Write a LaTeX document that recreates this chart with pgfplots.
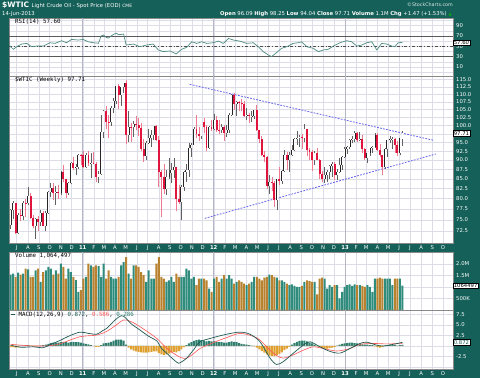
\documentclass[border=0pt]{standalone}
\usepackage{pgfplots}
\pgfplotsset{compat=1.18}
\usepackage{pgfplotstable}
\usepackage{fontspec}
\setmainfont{DejaVu Sans}
\newfontfamily\monof{DejaVu Sans Mono}
\definecolor{bg}{HTML}{16605A}
\definecolor{gridc}{HTML}{DCDDE6}
\definecolor{yearc}{HTML}{B4B6C6}
\definecolor{candred}{HTML}{E0143C}
\definecolor{wickred}{HTML}{F07890}
\definecolor{wickblk}{HTML}{606060}
\definecolor{volteal}{HTML}{2F8C7C}
\definecolor{volbrown}{HTML}{B8822F}
\definecolor{rsic}{HTML}{4E8C84}
\definecolor{macdc}{HTML}{1E5A52}
\definecolor{sigc}{HTML}{FF5555}
\definecolor{histpos}{HTML}{2F7F70}
\definecolor{histneg}{HTML}{E0A030}
\definecolor{trend}{HTML}{6464F0}
\definecolor{sep}{HTML}{8A8A8A}
\newcommand\lab{\fontsize{5.3}{6}\selectfont}
\newcommand\mlab{\fontsize{5.8}{6}\selectfont\monof}

\pgfplotstableread{
k o h l c v
1 73.8 77.6 73.0 77.2 1.54
2 77.2 79.4 75.2 78.9 1.58
3 78.9 79.0 71.8 72.1 1.44
4 72.1 76.6 71.9 76.1 1.62
5 76.1 77.6 74.7 76.0 1.54
6 76.0 79.4 75.0 79.0 1.58
7 79.0 80.0 75.6 78.9 1.80
8 78.9 83.0 78.5 80.7 1.77
9 80.7 81.3 75.3 75.4 1.44
10 75.4 76.2 73.1 73.5 1.44
11 73.5 75.4 70.8 75.2 1.72
12 75.2 76.0 72.6 74.6 1.80
13 74.6 77.3 73.5 76.5 1.22
14 76.5 77.0 73.6 73.7 1.65
15 73.7 77.0 72.6 76.5 1.72
16 76.5 82.0 76.3 81.6 1.87
17 81.6 84.0 80.3 82.7 1.80
18 82.7 83.8 79.8 81.3 1.54
19 81.3 83.2 78.5 81.7 1.72
20 81.7 83.5 80.0 81.4 1.58
21 81.4 87.0 80.9 86.9 2.01
22 86.9 88.6 84.1 84.9 1.87
23 84.9 85.0 80.1 81.5 1.36
24 81.5 84.2 80.9 83.8 1.80
25 83.8 89.5 83.6 89.2 1.65
26 89.2 90.8 87.2 87.8 1.44
27 87.8 88.9 86.1 88.0 1.30
28 88.0 91.6 87.7 91.5 0.79
29 91.5 91.8 88.7 91.4 0.86
30 91.4 92.6 87.8 88.0 1.36
31 88.0 92.0 87.9 91.5 1.44
32 91.5 92.6 88.3 89.1 2.01
33 89.1 92.0 85.1 89.3 1.94
34 89.3 92.2 88.8 89.0 1.87
35 89.0 89.5 84.2 85.6 1.94
36 85.6 87.0 83.9 86.2 1.91
37 86.2 103.4 86.0 97.9 1.44
38 97.9 104.9 96.3 104.4 2.01
39 104.4 106.0 98.8 101.2 1.36
40 101.2 103.3 96.2 101.1 1.72
41 101.1 106.0 100.0 105.4 1.44
42 105.4 108.8 103.8 107.9 1.36
43 107.9 112.8 106.9 112.8 1.36
44 112.8 113.5 105.1 109.7 1.44
45 109.7 112.6 106.0 112.3 1.94
46 112.3 114.0 110.5 113.9 2.08
47 113.9 114.8 94.6 97.2 2.30
48 97.2 104.6 95.0 99.7 1.58
49 99.7 100.8 95.0 99.5 1.36
50 99.5 101.5 96.7 100.6 1.94
51 100.6 103.0 98.5 100.2 1.94
52 100.2 102.4 97.0 99.3 1.87
53 99.3 100.9 92.4 93.0 1.65
54 93.0 95.9 89.6 91.2 1.51
55 91.2 95.4 90.1 94.9 1.22
56 94.9 99.0 94.5 96.2 1.72
57 96.2 98.5 93.8 97.2 1.36
58 97.2 100.0 95.7 99.9 1.36
59 99.9 100.2 95.4 95.7 2.01
60 95.7 97.0 82.9 86.9 2.30
61 86.9 87.3 75.7 85.4 1.44
62 85.4 89.0 81.2 82.3 1.36
63 82.3 87.2 81.0 85.4 1.22
64 85.4 90.5 85.0 86.5 1.29
65 86.5 89.2 84.0 87.2 1.44
66 87.2 90.5 85.3 88.0 1.22
67 88.0 88.2 77.1 79.9 1.58
68 79.9 83.3 78.8 79.2 1.44
69 79.2 83.3 74.9 83.0 1.44
70 83.0 87.0 82.0 86.8 1.44
71 86.8 89.0 84.2 87.4 1.80
72 87.4 94.7 85.5 93.3 1.72
73 93.3 94.7 90.9 94.3 1.36
74 94.3 99.4 94.2 99.0 1.44
75 99.0 103.4 96.3 97.4 1.08
76 97.4 99.5 95.5 96.8 1.36
77 96.8 101.2 96.0 101.0 1.36
78 101.0 102.4 97.6 99.4 1.36
79 99.4 100.2 92.5 93.5 1.29
80 93.5 99.9 93.1 99.7 0.93
81 99.7 101.8 98.4 98.8 0.79
82 98.8 103.7 98.6 101.6 1.36
83 101.6 103.0 98.0 98.7 1.44
84 98.7 101.7 97.5 98.5 1.22
85 98.5 100.5 97.8 99.6 1.36
86 99.6 100.3 95.4 97.8 1.51
87 97.8 100.3 96.7 98.7 1.36
88 98.7 104.0 97.8 103.2 1.51
89 103.2 110.0 102.8 109.8 1.36
90 109.8 110.5 104.8 106.7 1.15
91 106.7 107.8 102.8 107.4 1.22
92 107.4 107.8 104.5 107.1 1.29
93 107.1 108.5 104.5 106.9 1.22
94 106.9 107.7 102.5 103.0 1.15
95 103.0 105.5 101.7 103.3 1.08
96 103.3 104.0 100.7 102.8 1.15
97 102.8 104.5 101.0 103.1 1.22
98 103.1 105.0 102.0 104.9 1.44
99 104.9 106.4 98.4 98.5 1.44
100 98.5 98.6 94.7 96.1 1.36
101 96.1 97.0 91.2 91.5 1.29
102 91.5 92.6 89.4 90.9 1.41
103 90.9 91.0 82.5 83.2 1.44
104 83.2 86.0 81.2 84.1 1.54
105 84.1 85.4 81.9 84.0 1.51
106 84.0 84.4 78.0 79.8 1.44
107 79.8 85.0 77.3 85.0 1.41
108 85.0 88.0 83.4 84.5 1.29
109 84.5 87.3 83.7 87.1 1.29
110 87.1 92.9 86.8 91.4 1.22
111 91.4 92.2 87.4 90.1 1.15
112 90.1 92.3 86.9 91.4 1.08
113 91.4 94.2 91.0 92.9 1.11
114 92.9 96.3 92.6 96.0 1.05
115 96.0 98.3 94.3 96.2 1.01
116 96.2 97.3 93.8 96.5 1.01
117 96.5 97.5 93.2 96.4 1.05
118 96.4 100.4 95.0 99.0 1.22
119 99.0 99.0 91.2 92.9 1.29
120 92.9 93.5 90.0 92.2 1.25
121 92.2 92.9 87.1 89.9 1.22
122 89.9 92.4 88.7 91.9 1.22
123 91.9 93.5 89.9 90.1 0.68
124 90.1 90.4 84.9 86.3 1.36
125 86.3 87.0 84.1 84.9 1.41
126 84.9 88.0 84.0 86.1 1.36
127 86.1 87.2 84.1 86.7 0.93
128 86.7 88.6 85.0 88.3 1.08
129 88.3 89.5 85.5 88.9 1.01
130 88.9 89.6 84.7 85.9 1.08
131 85.9 87.5 84.7 86.7 1.08
132 86.7 90.5 86.5 88.7 0.50
133 88.7 91.0 87.2 90.8 0.79
134 90.8 93.8 90.6 93.1 1.01
135 93.1 94.0 91.7 93.6 1.08
136 93.6 96.0 93.0 95.6 1.11
137 95.6 96.8 94.9 95.9 1.05
138 95.9 98.2 95.0 97.8 1.11
139 97.8 97.9 95.0 95.7 1.08
140 95.7 98.0 95.4 95.9 1.08
141 95.9 97.3 92.1 93.1 1.05
142 93.1 93.4 90.0 90.7 1.01
143 90.7 92.0 89.3 92.0 1.08
144 92.0 93.5 91.2 93.5 1.01
145 93.5 94.0 91.9 93.7 0.79
146 93.7 97.6 93.4 97.2 1.36
147 97.2 97.8 92.5 92.7 1.36
148 92.7 94.5 90.8 91.3 1.41
149 91.3 91.4 86.1 88.0 1.36
150 88.0 93.3 87.6 93.0 1.36
151 93.0 95.8 90.9 95.6 1.36
152 95.6 96.9 94.9 96.0 1.36
153 96.0 96.5 93.0 96.1 1.08
154 96.1 96.4 92.1 94.2 1.36
155 94.2 95.3 91.1 92.0 1.36
156 92.0 96.3 91.3 96.2 1.36
157 96.1 98.3 94.0 97.7 1.06
}\candles

\pgfplotstableread{
k r
0.37 52.6
2.08 44.3
3.44 49.3
5.43 54.5
7.42 55.7
9.41 49.3
11.4 50.6
14.0 50.6
16.7 57.0
18.7 55.7
21.3 60.9
23.3 57.0
25.3 63.4
28.0 62.2
29.9 63.4
31.9 58.8
33.9 57.0
36.0 56.0
37.0 70.0
38.0 72.0
39.0 67.4
40.0 66.0
41.0 70.0
42.0 73.0
43.0 75.5
44.0 72.6
45.0 73.0
46.0 74.0
47.0 52.6
49.9 54.5
52.5 49.3
55.2 52.6
57.8 54.5
59.8 43.0
61.8 39.8
64.5 41.1
66.9 35.3
69.1 44.3
71.1 48.1
73.1 58.8
75.1 55.7
77.1 58.8
79.1 55.7
81.7 57.0
83.7 60.2
85.7 55.7
87.7 65.3
89.7 62.2
92.3 60.0
95.0 55.7
97.6 57.0
99.6 49.3
101.6 39.8
103.6 33.4
104.9 30.2
106.9 37.9
108.9 46.2
110.9 49.3
113.5 55.7
115.5 57.0
116.9 58.8
118.9 49.3
121.5 46.2
123.5 39.8
125.5 43.0
127.5 44.3
129.5 50.6
132.1 57.0
134.8 60.9
136.8 58.8
138.8 50.6
140.8 52.6
142.8 57.0
144.8 58.8
146.8 43.0
148.7 55.7
150.7 54.5
152.7 50.6
154.0 49.3
155.3 57.0
157.0 57.6
}\rsi

\pgfplotstableread{
k m
1 0.2
5 -0.3
10 -0.2
14 -0.4
17 0.4
21 1.4
24 2.3
28.6 3.3
32 3.0
35.3 2.8
37.5 3.6
39.3 4.2
42.6 6.2
45 7.2
46.6 6.8
49 5.3
52.5 3.8
56 2.3
59.2 1.2
61 -0.5
63.1 -1.7
66 -3.3
67.8 -4.1
69 -3.8
71.1 -2.9
74 -0.8
76.4 1.0
81.7 2.0
87 2.8
92.3 3.3
96.3 2.8
100.3 1.0
104.3 -2.9
106.9 -4.4
109.6 -3.7
113.6 -1.7
117.5 0.2
120.2 1.0
124.2 -0.2
128.2 -1.3
132.1 -1.7
136.1 -0.6
140.1 0.6
142.8 0.9
146.7 0.2
149.4 0.0
153.4 0.4
157 0.872
}\macd

\pgfplotstableread{
k s
1 0.4
10 0.0
17 0.1
21 0.6
28.6 2.2
35.3 2.6
39.3 3.5
42.6 4.8
46 6.2
49 5.8
52.5 4.6
56 3.2
59.2 1.8
63.1 -0.5
66 -1.8
69 -2.8
71.1 -2.9
73.5 -2.0
76.4 -0.6
81.7 0.8
87 2.0
92.3 3.0
97.6 2.3
100.3 1.4
104.3 -1.0
107 -2.3
109.6 -2.9
113.6 -2.1
117.5 -1.0
121.5 -0.2
125.5 -0.6
130.8 -1.2
136.1 -0.6
140.1 0.4
145.4 0.6
150.7 0.5
157 0.586
}\sig

\pgfplotstableread{
k h
1 -0.3
2 -0.3
3 -0.4
4 -0.3
5 0.1
6 0.1
7 0.2
8 0.2
9 0.1
10 -0.1
11 -0.1
12 0.05
13 0.1
14 0.2
15 0.3
16 0.5
17 0.7
18 0.8
19 0.8
20 0.8
21 0.9
22 1.0
23 0.9
24 0.8
25 0.9
26 1.0
27 0.9
28 0.9
29 0.8
30 0.6
31 0.5
32 0.4
33 0.2
34 0.05
35 -0.2
36 -0.2
37 0.2
38 0.6
39 0.7
40 0.8
41 1.0
42 1.3
43 1.5
44 1.5
45 1.5
46 1.3
47 0.3
48 -0.4
49 -0.8
50 -1.1
51 -1.3
52 -1.4
53 -1.5
54 -1.6
55 -1.6
56 -1.5
57 -1.4
58 -1.3
59 -1.3
60 -1.7
61 -2.0
62 -2.1
63 -2.0
64 -1.8
65 -1.6
66 -1.4
67 -1.5
68 -1.2
69 -0.8
70 -0.3
71 0.2
72 0.6
73 0.9
74 1.2
75 1.4
76 1.5
77 1.4
78 1.3
79 1.1
80 1.2
81 1.1
82 1.1
83 1.0
84 0.9
85 0.9
86 0.8
87 0.8
88 0.9
89 1.1
90 1.0
91 0.9
92 0.7
93 0.5
94 0.4
95 0.3
96 0.2
97 0.1
98 -0.1
99 -0.4
100 -0.8
101 -1.2
102 -1.6
103 -2.0
104 -2.3
105 -2.4
106 -2.4
107 -2.2
108 -1.9
109 -1.5
110 -1.0
111 -0.6
112 -0.2
113 0.3
114 0.7
115 1.0
116 1.2
117 1.3
118 1.3
119 1.1
120 0.8
121 0.6
122 0.3
123 -0.1
124 -0.3
125 -0.5
126 -0.6
127 -0.6
128 -0.5
129 -0.4
130 -0.3
131 0.1
132 0.3
133 0.5
134 0.6
135 0.7
136 0.8
137 0.8
138 0.7
139 0.6
140 0.5
141 0.4
142 0.3
143 0.3
144 0.2
145 0.2
146 -0.1
147 -0.3
148 -0.4
149 -0.3
150 0.1
151 0.2
152 0.3
153 0.3
154 0.2
155 0.1
156 0.2
157 0.286
}\hist

\pgfplotstableread{
x p
72.3 113.4
169.7 95.54
}\trendup
\pgfplotstableread{
x p
78.3 75.35
170.4 91.7
}\trenddn

\tikzset{valbox/.style={anchor=west, fill=white, draw=black, line width=0.3pt, inner sep=0.7pt, font=\lab, text=black}}

\pgfplotsset{
  panel/.style={
    scale only axis, width=444pt, anchor=south west,
    xmin=0.37, xmax=177.12, enlargelimits=false,
    axis background/.style={fill=white},
    xtick={3.43,7.86,12.28,16.57,21.0,25.28,29.71,34.14,38.14,42.57,46.86,51.28,55.57,60.0,64.43,68.71,73.14,77.43,81.86,86.28,90.43,94.86,99.14,103.57,107.86,112.28,116.71,121.0,125.43,129.71,134.14,138.57,142.57,147.0,151.28,155.71,160.0,164.43,168.86,173.14},
    xticklabels={},
    xmajorgrids, ymajorgrids,
    grid style={gridc, line width=0.4pt},
    major tick length=0pt, minor tick length=0pt,
    axis line style={sep, line width=0.8pt},
    yticklabel pos=right,
    yticklabel style={font=\lab, text=white, anchor=west, inner sep=0pt, xshift=3pt},
    xticklabel style={font=\lab, text=white, anchor=base, inner sep=0pt, yshift=-6.5pt},
    extra x ticks={29.71,81.86,134.14}, extra x tick labels={},
    extra x tick style={grid style={yearc, line width=0.6pt}},
    clip mode=individual,
  },
  monthlabels/.style={xticklabels={J,A,S,O,N,D,\textbf{11},F,M,A,M,J,J,A,S,O,N,D,\textbf{12},F,M,A,M,J,J,A,S,O,N,D,\textbf{13},F,M,A,M,J,J,A,S,O}},
  candle/.style 2 args={draw=none, mark=none, forget plot,
    error bars/.cd, y dir=plus, y explicit, error mark=none,
    error bar style={draw=#1, line width=#2}},
}

\begin{document}
\begin{tikzpicture}[x=1pt,y=1pt]
\useasboundingbox (0,0) rectangle (480,378);
\fill[bg] (0,0) rectangle (480,378);

% header
\node[anchor=base west, inner sep=0pt, text=white] at (2,370.5) {\fontsize{7.5}{8}\selectfont\bfseries \$WTIC\ \fontsize{5.3}{6}\selectfont\mdseries Light Crude Oil - Spot Price (EOD) \fontsize{4.5}{5}\selectfont CME};
\node[anchor=base west, inner sep=0pt, text=white] at (2,362) {\fontsize{5.3}{6}\selectfont 14-Jun-2013};
\node[anchor=base east, inner sep=0pt, text=white] at (447,362) {\fontsize{5.3}{6}\selectfont \textbf{Open} 96.09 \textbf{High} 98.25 \textbf{Low} 94.04 \textbf{Close} 97.71 \textbf{Volume} 1.1M \textbf{Chg} +1.47 (+1.53\%)};
\node[anchor=base west, inner sep=0pt, text=green!70!black] at (448.5,362) {\fontsize{4}{5}\selectfont ▲};
\node[anchor=base east, inner sep=0pt, text=white!85!bg] at (453,371) {\fontsize{4.8}{5}\selectfont ©StockCharts.com};

% RSI panel
\begin{axis}[panel, at={(9pt,302pt)}, height=58pt, ymin=-7.3, ymax=104.8,
  ytick={0,10,20,30,40,50,60,70,80,90,100}, yticklabels={,10,,30,,50,,70,,90,}]
\addplot[black!65, line width=0.8pt] coordinates {(0.37,70) (177.12,70)};
\addplot[black!65, line width=0.8pt] coordinates {(0.37,30) (177.12,30)};
\addplot[black!70, line width=0.6pt, dash dot] coordinates {(0.37,50) (177.12,50)};
\addplot[rsic, line width=0.7pt] table[x=k, y=r] {\rsi};
\node[anchor=west, inner sep=0pt, font=\mlab] at ([xshift=6pt,yshift=-3.5pt]rel axis cs:0,1) {RSI(14) 57.60};
\node[valbox] at (axis cs:177.12,57.6) {57.60};
\end{axis}

% Price panel
\begin{axis}[panel, monthlabels, at={(9pt,135pt)}, height=167pt, ymin=4.2469, ymax=4.7562,
  ytick={4.28359,4.31749,4.35028,4.38203,4.41280,4.44265,4.47164,4.49981,4.52721,4.55388,4.57985,4.60517,4.62986,4.65396,4.67749,4.70048,4.72295,4.74493},
  yticklabels={72.5,75.0,77.5,80.0,82.5,85.0,87.5,90.0,92.5,95.0,,100.0,102.5,105.0,107.5,110.0,112.5,115.0}]
\addplot[trend, line width=0.8pt, dash pattern=on 1.8pt off 1.3pt] table[x=x, y expr={ln(\thisrow{p})}] {\trendup};
\addplot[trend, line width=0.8pt, dash pattern=on 1.8pt off 1.3pt] table[x=x, y expr={ln(\thisrow{p})}] {\trenddn};
% wicks
\addplot[candle={wickblk}{0.6pt}]
  table[x=k, y expr={ln(\thisrow{l})}, y error plus expr={(ln(\thisrow{h})-ln(\thisrow{l}))*(\thisrow{c}>=\thisrow{o})}] {\candles};
\addplot[candle={wickred}{0.6pt}]
  table[x=k, y expr={ln(\thisrow{l})}, y error plus expr={(ln(\thisrow{h})-ln(\thisrow{l}))*(\thisrow{c}<\thisrow{o})}] {\candles};
% bodies
\addplot[candle={black!85}{1.9pt}]
  table[x=k, y expr={ln(\thisrow{o})}, y error plus expr={(ln(\thisrow{c})-ln(\thisrow{o}))*(\thisrow{c}>=\thisrow{o})}] {\candles};
\addplot[candle={white}{0.7pt}]
  table[x=k, y expr={ln(\thisrow{o})}, y error plus expr={(ln(\thisrow{c})-ln(\thisrow{o}))*(\thisrow{c}>=\thisrow{o})}] {\candles};
\addplot[candle={candred}{1.9pt}]
  table[x=k, y expr={ln(\thisrow{c})}, y error plus expr={(ln(\thisrow{o})-ln(\thisrow{c}))*(\thisrow{c}<\thisrow{o})}] {\candles};
\node[anchor=west, inner sep=0pt, font=\mlab] at ([xshift=6pt,yshift=-4pt]rel axis cs:0,1) {\$WTIC (Weekly) 97.71};
\node[valbox] at (axis cs:177.12,4.58199) {97.71};
\end{axis}

% Volume panel
\begin{axis}[panel, at={(9pt,68pt)}, height=58pt, ymin=0, ymax=2.52,
  ytick={0.5,1,1.5,2}, yticklabels={500K,,1.5M,2.0M}]
\addplot[ybar, bar width=2pt, bar shift=0pt, fill=volteal, draw=none] table[x=k, y expr={\thisrow{v}*(\thisrow{c}>=\thisrow{o})}] {\candles};
\addplot[ybar, bar width=2pt, bar shift=0pt, fill=volbrown, draw=none] table[x=k, y expr={\thisrow{v}*(\thisrow{c}<\thisrow{o})}] {\candles};
\node[anchor=west, inner sep=0pt, font=\mlab] at ([xshift=6pt,yshift=-4pt]rel axis cs:0,1) {Volume 1,064,497};
\node[valbox] at (axis cs:177.12,1.0645) {1064497};
\end{axis}

% MACD panel
\begin{axis}[panel, monthlabels, at={(9pt,9pt)}, height=59pt, ymin=-5.48, ymax=8.57,
  ytick={-5,-2.5,0,2.5,5,7.5}, yticklabels={,-2.5,,2.5,5.0,7.5}]
\addplot[ybar, bar width=2pt, bar shift=0pt, fill=histpos, draw=none] table[x=k, y expr={max(\thisrow{h},0)}] {\hist};
\addplot[ybar, bar width=2pt, bar shift=0pt, fill=histneg, draw=none] table[x=k, y expr={min(\thisrow{h},0)}] {\hist};
\addplot[sigc, line width=0.6pt, smooth] table[x=k, y=s] {\sig};
\addplot[macdc, line width=0.7pt, smooth] table[x=k, y=m] {\macd};
\node[anchor=west, inner sep=0pt, font=\mlab] at ([xshift=2pt,yshift=-4.5pt]rel axis cs:0,1) {\textcolor{macdc}{\rule[1.5pt]{4pt}{0.8pt}} MACD(12,26,9) \textcolor{macdc}{0.872}, \textcolor{sigc}{0.586}, \textcolor{histpos}{0.286}};
\node[valbox, text=macdc] at (axis cs:177.12,0.872) {0.872};
\end{axis}
\end{tikzpicture}
\end{document}
